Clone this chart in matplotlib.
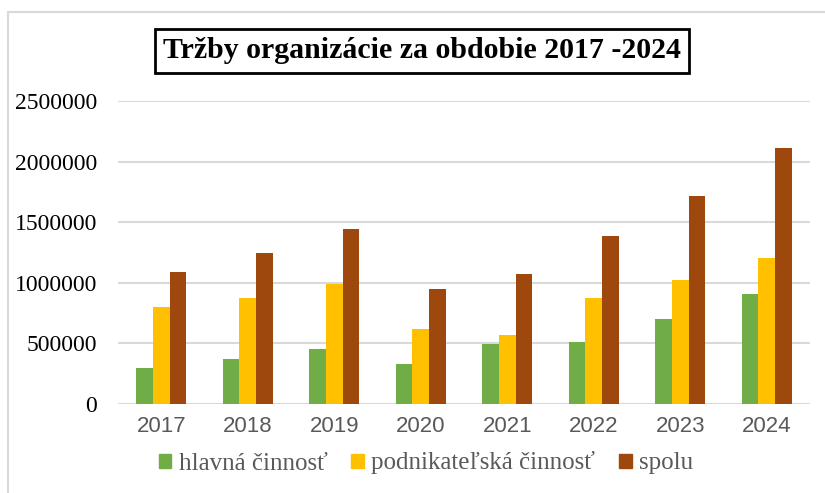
import numpy as np
import matplotlib.pyplot as plt
from matplotlib.patches import Rectangle, Patch

years = ['2017', '2018', '2019', '2020', '2021', '2022', '2023', '2024']
hlavna = [293000, 369000, 452000, 328000, 493000, 512000, 698000, 909000]
podnikatelska = [797000, 871000, 992000, 617000, 568000, 871000, 1020000, 1204000]
spolu = [1086000, 1243000, 1444000, 950000, 1069000, 1383000, 1719000, 2116000]

series = [('hlavná činnosť', hlavna, '#70ad47'),
          ('podnikateľská činnosť', podnikatelska, '#ffc000'),
          ('spolu', spolu, '#9e480e')]

serif = ['Liberation Serif', 'DejaVu Serif']

fig = plt.figure(figsize=(8.25, 4.93), dpi=100)
ax = fig.add_axes([118 / 825, 1 - 403.7 / 493, 692 / 825, (403.7 - 101.3) / 493])

x = np.arange(len(years))
w = 0.193
for i, (name, vals, col) in enumerate(series):
    ax.bar(x + (i - 1) * w, vals, w, color=col, label=name, zorder=3)

ax.set_xlim(-0.5, len(years) - 0.5)
ax.set_ylim(0, 2500000)
ax.set_yticks(np.arange(0, 2500001, 500000))
ax.set_yticklabels([str(v) for v in range(0, 2500001, 500000)],
                   family=serif, fontsize=17, color='black')
ax.set_xticks(x)
ax.set_xticklabels(years, family=['Liberation Sans Narrow', 'Liberation Sans'],
                   fontsize=16, color='#595959')
ax.tick_params(length=0, axis='y', pad=15)
ax.tick_params(length=0, axis='x', pad=9)
ax.grid(axis='y', color='#d9d9d9', lw=1.5, zorder=0)
for s in ax.spines.values():
    s.set_visible(False)

# title with frame
fig.text(422 / 825, 1 - 51 / 493, 'Tržby organizácie za obdobie 2017 -2024',
         ha='center', va='center', family=serif, fontweight='bold', fontsize=21.5,
         bbox=dict(boxstyle='square,pad=0.27', fc='white', ec='black', lw=2))

handles = [Patch(color=c, label=n) for n, _, c in series]
fig.legend(handles=handles, loc='center', bbox_to_anchor=(426 / 825, 1 - 463 / 493),
           ncol=3, frameon=False, prop={'family': serif, 'size': 18},
           labelcolor='#595959', handlelength=0.5, handleheight=0.5,
           handletextpad=0.3, columnspacing=0.95)

# outer chart border
fig.add_artist(Rectangle((8 / 825, -0.1), 1.1, 1 - 12 / 493 + 0.1,
                         transform=fig.transFigure, fill=False,
                         ec='#d9d9d9', lw=1.5))

fig.savefig('out.png', dpi=100)
